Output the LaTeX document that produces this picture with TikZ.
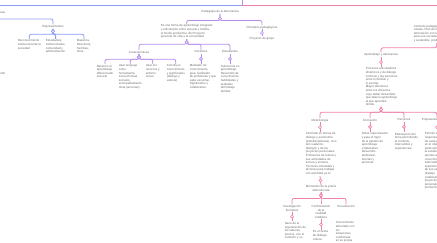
\documentclass[tikz,border=0pt]{standalone}
\usepackage{fontspec}
\setmainfont{Liberation Sans}
\usetikzlibrary{positioning}
\definecolor{MapBlue}{RGB}{138,156,242}
\definecolor{MapViolet}{RGB}{182,140,236}
\definecolor{MapPink}{RGB}{238,128,172}
\definecolor{MapInk}{RGB}{105,105,105}
\newcommand\mapfont{\fontsize{3}{3.6}\selectfont}
\tikzset{
  map text/.style={font=\mapfont, text=MapInk, inner sep=0.6pt, anchor=north},
  map label/.style={map text, align=center},
  map note/.style={map text, align=left, anchor=north west},
  map link/.style={line width=0.8pt, rounded corners=2pt},
  blue link/.style={map link, draw=MapBlue},
  violet link/.style={map link, draw=MapViolet},
  pink link/.style={map link, draw=MapPink},
  map join/.style={circle, draw, fill=white, inner sep=0pt, minimum size=3pt, line width=0.6pt}
}
\begin{document}
\begin{tikzpicture}[x=1pt,y=-1pt]
\useasboundingbox (0,0) rectangle (437,243);
% top bar
\coordinate (rootin) at (242,-2);
\coordinate (rootjoin) at (242,5);
\coordinate (leftout) at (-2,5);
\coordinate (rightout) at (440,5);
\draw[blue link] (rootjoin) -- (leftout);
\draw[pink link] (rootjoin) -- (rightout);
\draw[violet link] (rootin) -- (rootjoin);

% blue branch
\node[map label, anchor=east] (ideas) at (6,12) {Prácticas educativas};
\node[map label] (rep) at (53,24.5) {Representantes};
\node[map note] (rep1) at (17,39) {Reconocimiento\\institucional de la\\sociedad};
\node[map note] (rep2) at (45,39) {Estudiantes,\\institucionales,\\comunidad y\\administración};
\node[map note] (rep3) at (76,39) {Maestros,\\Directores,\\Familias,\\otros.};
\draw[blue link] (ideas.south) -- ++(0,5) -| (rep.north);
\foreach \kid in {rep1,rep2,rep3}
  \draw[blue link] (rep.south) -- ++(0,5.5) node[map join, pos=.45] {} -| (\kid.north);
\node[map label, anchor=east] (devel) at (6,73) {Desarrollo};
\node[map note] (roles) at (-46,84.5) {Participación activa de los actores\\en las estrategias de aula\\y del trabajo con sus familias y\\el entorno de la comunidad rural\\de la escuela\\en los proyectos de vida. Se\\logran aprendizajes relacionados};

% violet branch
\node[map label] (ped) at (220,9.5) {Pedagogía de la alternancia};
\node[map note] (def) at (160,24) {Es una forma de aprendizaje integrado\\y articulación entre escuela y familia,\\el medio productivo, del Proyecto\\personal de vida y la comunidad};
\node[map label] (princ) at (262,25) {Principios pedagógicos};
\node[map label, below=7pt of princ] (proy) {Proyecto de grupo};
\draw[violet link] (ped.south) -- ++(0,6.5) node[map join, pos=.75] {} -| (def.north);
\draw[violet link] (ped.south) -- ++(0,6.5) node[map join, pos=.75] {} -| (princ.north);
\draw[violet link] (princ) -- node[map join] {} (proy);

\node[map label] (car) at (139,50) {Características};
\node[map label] (doc) at (201,50) {Docentes};
\node[map label] (est) at (230,50) {Estudiantes};
\foreach \kid in {car,doc,est}
  \draw[violet link] (def.south) -- ++(0,5) node[map join, pos=.6] {} -| (\kid.north);

\node[map note] (car1) at (96,64) {Relación al\\aprendizaje\\diferenciado\\escuela};
\node[map note] (car2) at (118,64) {Usar lenguaje\\como\\herramienta\\social (formas\\sociales,\\acompañamiento\\otras personas)};
\node[map note] (car3) at (145,64) {Usar los\\recursos y\\entorno\\social};
\node[map note] (car4) at (166,64) {Construye\\conocimiento\\y significados\\(diálogo y\\valores)};
\foreach \kid in {car1,car2,car3,car4}
  \draw[violet link] (car.south) -- ++(0,5.5) node[map join, pos=.6] {} -| (\kid.north);

\node[map note] (docd) at (189,64) {Mediador de\\conocimiento,\\guía, facilitador\\de problemas y que\\sabe escuchar.\\Significativo y\\colaborativo.};
\node[map note] (estd) at (220,64) {Autonomía en\\aprendizaje.\\Desarrollo de\\conocimiento,\\habilidades y\\actitudes\\del trabajo\\familiar.};
\draw[violet link] (doc) -- node[map join] {} (doc |- docd.north);
\draw[violet link] (est) -- node[map join] {} (est |- estd.north);

% pink branch
\node[map note] (ctx) at (413,24) {Contexto pedagógico de las zonas\\rurales, Plan de formación,\\articulación con las familias\\para una sociedad justa\\y sostenible, productiva};
\node[map label] (aa) at (381,52.5) {Aprendizaje y alternancia};
\draw[pink link] (ctx.south) -- ++(0,5) -| (aa.north);
\node[map note] (aadesc) at (365,67) {Procesos articuladores\\dinámicos y de diálogo\\continuo y las personas\\entre lo familiar y\\lo escolar.\\Mayor diferencia\\entre los docentes\\cuyo deber desarrollar\\que abarca aprendizaje\\al que aprendió\\dónde.};
\draw[pink link] (aa) -- node[map join] {} (aa |- aadesc.north);

\node[map label] (met) at (320,118) {Metodología};
\node[map label] (form) at (370,118) {Formación};
\node[map label] (rec) at (404,118) {Recursos};
\node[map label] (prop) at (437,118) {Propuestas educativas};
\foreach \kid in {met,form,rec,prop}
  \draw[pink link] (aa |- aadesc.south) -- ++(0,5.5) node[map join, pos=.5] {} -| (\kid.north);

\node[map note] (metd) at (305,132) {Centrado en temas de\\diálogo y autonomía\\(interdisciplinaria). Uso\\del cuaderno,\\diálogos y de los\\proyectos personales.\\Profesores de tutoría y\\sus actividades de\\lectura y síntesis.\\Técnicas simuladas y\\técnicas para trabajar\\con actividad ya lo.};
\node[map note] (formd) at (361,132) {Roles supervisados\\y para el logro\\de la gestión de\\aprendizaje\\colaborativo.\\Desarrollo\\ambiental,\\tutorías y\\personal.};
\node[map note] (recd) at (394,132) {Elaboración del\\tema permitiendo\\el contexto,\\intercambio y\\experiencias.};
\node[map note] (propd) at (424,132) {Permite la\\responsabilidad\\de cada persona\\en el objetivo\\particular y en\\la estrategia,\\aportes a los\\conocimientos,\\intercambio de\\experiencias y\\de sus saberes\\(trabajo\\colaborativo),\\proyectos\\personales y\\productivos.};
\draw[pink link] (met) -- node[map join] {} (met |- metd.north);
\draw[pink link] (form) -- node[map join] {} (form |- formd.north);
\draw[pink link] (rec) -- node[map join] {} (rec |- recd.north);
\draw[pink link] (prop) -- node[map join] {} (prop |- propd.north);

\node[map label] (mom) at (321,185) {Momentos de la praxis\\alternancista};
\draw[pink link] (met |- metd.south) -- node[map join] {} (mom.north);
\node[map label] (inv) at (292,204.5) {Investigación\\formativa};
\node[map label] (conf) at (321,204.5) {Confrontación\\de la\\realidad\\cotidiana};
\node[map label] (soc) at (346,204.5) {Socialización};
\foreach \kid in {inv,conf,soc}
  \draw[pink link] (mom.south) -- ++(0,6) node[map join, pos=.5] {} -| (\kid.north);
\node[map note] (invd) at (284,221.5) {Nace de la\\organización de\\los saberes\\previos, con el\\contexto y su};
\node[map note] (confd) at (312,230) {Es un tema\\de diálogo,\\cultura};
\node[map note] (socd) at (335,221) {Conocimiento\\articulado con\\los\\situaciones\\conflictivas\\en su propia};
\draw[pink link] (inv) -- node[map join] {} (inv |- invd.north);
\draw[pink link] (conf) -- node[map join] {} (conf |- confd.north);
\end{tikzpicture}
\end{document}
